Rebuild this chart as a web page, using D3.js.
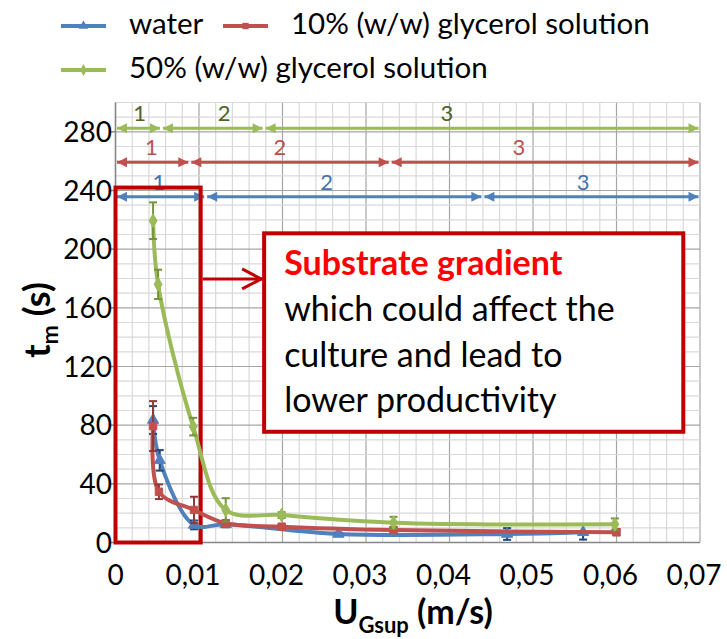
<!DOCTYPE html>
<html>
<head>
<meta charset="utf-8">
<script src="https://cdn.jsdelivr.net/npm/d3@7"></script>
<style>
  body { margin: 0; background: #fff; }
  text { font-family: Lato, "Open Sans", sans-serif; }
</style>
</head>
<body>
<div id="chart"></div>
<script>
// axis ticks
const xTicks = [0, 0.01, 0.02, 0.03, 0.04, 0.05, 0.06, 0.07];
const xTickLabels = ["0", "0,01", "0,02", "0,03", "0,04", "0,05", "0,06", "0,07"];
const yTicks = [0, 40, 80, 120, 160, 200, 240, 280];

// series: UGsup (m/s), tm (s), error
const waterX = [0.0045, 0.0053, 0.0094, 0.0132, 0.0267, 0.0469, 0.0560];
const waterY = [83.5, 56, 12, 12.4, 5.8, 5.8, 7.0];
const waterErr = [9.5, 7, 3, 2, 1, 4, 5];

const gly10X = [0.0045, 0.0052, 0.0094, 0.0132, 0.0199, 0.0333, 0.0600];
const gly10Y = [79.4, 34.6, 22.2, 13.1, 10.8, 8.5, 7.0];
const gly10Err = [17, 5, 9, 2, 1, 2, 2];

const gly50X = [0.0045, 0.0051, 0.0093, 0.0132, 0.0199, 0.0333, 0.0598];
const gly50Y = [219.4, 176, 79, 22.2, 18.7, 13.5, 12.4];
const gly50Err = [12.5, 10, 6, 8, 2, 4, 4];

// regime zones (top arrows)
const zoneLabels = ["1", "2", "3"];
const waterZones = [0, 0.0108, 0.0440, 0.07];
const waterZoneLabelX = [0.0052, 0.0253, 0.0560];
const gly10Zones = [0, 0.0089, 0.0329, 0.07];
const gly10ZoneLabelX = [0.0043, 0.0197, 0.0483];
const gly50Zones = [0, 0.0055, 0.0178, 0.07];
const gly50ZoneLabelX = [0.0029, 0.0130, 0.0397];
const zoneRowY = { water: 235.7, gly10: 259.2, gly50: 282.4 };

// annotation (data units)
const highlightX = [0, 0.0102];
const highlightY = [0, 242];
const noteX = [0.0178, 0.0680];
const noteY = [75.5, 210.8];
const noteArrowY = 179.7;
const noteLines = ["which could affect the", "culture and lead to", "lower productivity"];

const width = 727, height = 639;
const svg = d3.select("#chart").append("svg")
    .attr("width", width).attr("height", height);

const x = d3.scaleLinear().domain([0, 0.07]).range([115.5, 700]);
const y = d3.scaleLinear().domain([0, 300]).range([542.5, 102.5]);

// grid
const grid = svg.append("g");
grid.selectAll(".vminor").data(d3.range(0, 36).map(i => i * 0.002))
  .join("line")
    .attr("x1", d => x(d)).attr("x2", d => x(d))
    .attr("y1", y(0)).attr("y2", y(300))
    .attr("stroke", d => Math.abs(d * 100 - Math.round(d * 100)) < 1e-6 ? "#a6a6a6" : "#d9d9d9")
    .attr("stroke-width", 1.2);
grid.selectAll(".hminor").data(d3.range(0, 31).map(i => i * 10))
  .join("line")
    .attr("x1", x(0)).attr("x2", x(0.07))
    .attr("y1", d => y(d)).attr("y2", d => y(d))
    .attr("stroke", d => d % 40 === 0 ? "#a6a6a6" : "#d9d9d9")
    .attr("stroke-width", 1.2);

// axes
svg.append("line").attr("x1", x(0)).attr("x2", x(0.07)).attr("y1", y(0)).attr("y2", y(0))
  .attr("stroke", "#868686").attr("stroke-width", 1.5);
svg.append("line").attr("x1", x(0)).attr("x2", x(0)).attr("y1", y(0)).attr("y2", y(300))
  .attr("stroke", "#868686").attr("stroke-width", 1.5);

svg.append("g").selectAll("line").data(yTicks).join("line")
    .attr("x1", x(0) - 5).attr("x2", x(0))
    .attr("y1", d => y(d)).attr("y2", d => y(d))
    .attr("stroke", "#868686").attr("stroke-width", 1.5);

svg.append("g").selectAll("text").data(yTicks).join("text")
    .attr("x", 112).attr("y", d => y(d) + 10)
    .attr("text-anchor", "end")
    .attr("font-size", 28).attr("fill", "#000")
    .text(d => d);

svg.append("g").selectAll("text").data(xTicks).join("text")
    .attr("x", (d, i) => x(d) - (i === 0 ? 0 : 6)).attr("y", 585)
    .attr("text-anchor", "middle")
    .attr("font-size", 28).attr("fill", "#000")
    .text((d, i) => xTickLabels[i]);

// axis titles
const yTitle = svg.append("text")
    .attr("transform", "translate(50,320) rotate(-90)")
    .attr("text-anchor", "middle")
    .attr("font-size", 36).attr("font-weight", "bold");
yTitle.append("tspan").text("t");
yTitle.append("tspan").attr("font-size", 23).attr("dy", 8).text("m");
yTitle.append("tspan").attr("dy", -8).text(" (s)");

const xTitle = svg.append("text")
    .attr("x", 413).attr("y", 624)
    .attr("text-anchor", "middle")
    .attr("font-size", 34).attr("font-weight", "bold");
xTitle.append("tspan").text("U");
xTitle.append("tspan").attr("font-size", 22).attr("dy", 9).text("Gsup");
xTitle.append("tspan").attr("dy", -9).text(" (m/s)");

// arrow markers for zones
const defs = svg.append("defs");
const colors = {
  water: { line: "#4f81bd", dark: "#1f497d", label: "#4573ad" },
  gly10: { line: "#c0504d", dark: "#953735", label: "#c0504d" },
  gly50: { line: "#9bbb59", dark: "#77933c", label: "#4f6228" }
};
Object.entries(colors).forEach(([k, c]) => {
  defs.append("marker")
      .attr("id", "arr-" + k)
      .attr("viewBox", "0 0 10 10")
      .attr("refX", 10).attr("refY", 5)
      .attr("markerWidth", 12).attr("markerHeight", 10)
      .attr("markerUnits", "userSpaceOnUse")
      .attr("orient", "auto-start-reverse")
    .append("path").attr("d", "M0,0 L10,5 L0,10 z").attr("fill", c.line);
});

const zoneSets = [
  { key: "water", bounds: waterZones, labelX: waterZoneLabelX },
  { key: "gly10", bounds: gly10Zones, labelX: gly10ZoneLabelX },
  { key: "gly50", bounds: gly50Zones, labelX: gly50ZoneLabelX }
];
zoneSets.forEach(z => {
  const rowY = y(zoneRowY[z.key]);
  const g = svg.append("g");
  g.selectAll("line").data(d3.range(z.bounds.length - 1)).join("line")
      .attr("x1", i => x(z.bounds[i]) + 1.5)
      .attr("x2", i => x(z.bounds[i + 1]) - 1.5)
      .attr("y1", rowY).attr("y2", rowY)
      .attr("stroke", colors[z.key].line).attr("stroke-width", 3)
      .attr("marker-start", `url(#arr-${z.key})`)
      .attr("marker-end", `url(#arr-${z.key})`);
  g.selectAll("text").data(zoneLabels).join("text")
      .attr("x", (d, i) => x(z.labelX[i])).attr("y", rowY - 7)
      .attr("text-anchor", "middle")
      .attr("font-size", 22).attr("fill", colors[z.key].label)
      .text(d => d);
});

// highlight box
svg.append("rect")
    .attr("x", x(highlightX[0])).attr("y", y(highlightY[1]))
    .attr("width", x(highlightX[1]) - x(highlightX[0]))
    .attr("height", y(highlightY[0]) - y(highlightY[1]))
    .attr("fill", "none").attr("stroke", "#c00000").attr("stroke-width", 4);

// series
const series = [
  { key: "water", xs: waterX, ys: waterY, err: waterErr, symbol: d3.symbolTriangle },
  { key: "gly10", xs: gly10X, ys: gly10Y, err: gly10Err, symbol: d3.symbolSquare },
  { key: "gly50", xs: gly50X, ys: gly50Y, err: gly50Err, symbol: d3.symbolDiamond }
];

const line = d3.line()
    .x(d => x(d[0])).y(d => y(d[1]))
    .curve(d3.curveCatmullRom.alpha(0.5));

series.forEach(s => {
  const pts = s.xs.map((v, i) => [v, s.ys[i], s.err[i]]);
  const g = svg.append("g");
  g.append("path").datum(pts)
      .attr("d", line)
      .attr("fill", "none")
      .attr("stroke", colors[s.key].line)
      .attr("stroke-width", 4)
      .attr("stroke-linejoin", "round");
  const eb = g.append("g").attr("stroke", colors[s.key].dark).attr("stroke-width", 2);
  eb.selectAll(".bar").data(pts).join("line")
      .attr("x1", d => x(d[0])).attr("x2", d => x(d[0]))
      .attr("y1", d => y(d[1] - d[2])).attr("y2", d => y(d[1] + d[2]));
  eb.selectAll(".capT").data(pts).join("line")
      .attr("x1", d => x(d[0]) - 4).attr("x2", d => x(d[0]) + 4)
      .attr("y1", d => y(d[1] + d[2])).attr("y2", d => y(d[1] + d[2]));
  eb.selectAll(".capB").data(pts).join("line")
      .attr("x1", d => x(d[0]) - 4).attr("x2", d => x(d[0]) + 4)
      .attr("y1", d => y(d[1] - d[2])).attr("y2", d => y(d[1] - d[2]));
  g.selectAll(".mk").data(pts).join("path")
      .attr("transform", d => `translate(${x(d[0])},${y(d[1])})`)
      .attr("d", d3.symbol().type(s.symbol).size(55))
      .attr("fill", colors[s.key].line)
      .attr("stroke", colors[s.key].line);
});

// note box and arrow
svg.append("line")
    .attr("x1", x(highlightX[1]) + 2).attr("x2", x(noteX[0]) - 2)
    .attr("y1", y(noteArrowY)).attr("y2", y(noteArrowY))
    .attr("stroke", "#c00000").attr("stroke-width", 3);
svg.append("path")
    .attr("d", `M${x(noteX[0]) - 22},${y(noteArrowY) - 10} L${x(noteX[0]) - 3},${y(noteArrowY)} L${x(noteX[0]) - 22},${y(noteArrowY) + 10}`)
    .attr("fill", "none").attr("stroke", "#c00000").attr("stroke-width", 3);

svg.append("rect")
    .attr("x", x(noteX[0])).attr("y", y(noteY[1]))
    .attr("width", x(noteX[1]) - x(noteX[0]))
    .attr("height", y(noteY[0]) - y(noteY[1]))
    .attr("fill", "#fff").attr("stroke", "#c00000").attr("stroke-width", 4);

const noteLeft = x(noteX[0]) + 20;
svg.append("text")
    .attr("x", noteLeft).attr("y", 275)
    .attr("font-size", 34).attr("font-weight", "bold").attr("fill", "#ff0000")
    .text("Substrate gradient");
svg.append("g").selectAll("text").data(noteLines).join("text")
    .attr("x", noteLeft).attr("y", (d, i) => 321 + i * 45.5)
    .attr("font-size", 34).attr("fill", "#000")
    .text(d => d);

// legend
const legend = [
  { key: "water", label: "water", lx: 61, ty: 26, symbol: d3.symbolTriangle },
  { key: "gly10", label: "10% (w/w) glycerol solution", lx: 223, ty: 26, symbol: d3.symbolSquare },
  { key: "gly50", label: "50% (w/w) glycerol solution", lx: 61, ty: 70, symbol: d3.symbolDiamond }
];
legend.forEach(l => {
  const g = svg.append("g");
  g.append("line").attr("x1", l.lx).attr("x2", l.lx + 45)
      .attr("y1", l.ty).attr("y2", l.ty)
      .attr("stroke", colors[l.key].line).attr("stroke-width", 4);
  g.append("path")
      .attr("transform", `translate(${l.lx + 22.5},${l.ty})`)
      .attr("d", d3.symbol().type(l.symbol).size(40))
      .attr("fill", colors[l.key].line);
  g.append("text").attr("x", l.lx + 68).attr("y", l.ty + 8)
      .attr("font-size", 29.5).attr("fill", "#000")
      .text(l.label);
});
</script>
</body>
</html>
